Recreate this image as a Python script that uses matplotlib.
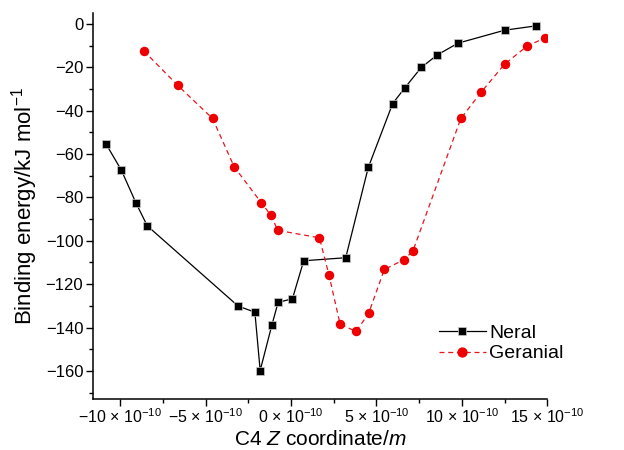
import matplotlib.pyplot as plt
from matplotlib.ticker import MultipleLocator, FuncFormatter

plt.rcParams['font.family'] = ['Liberation Sans', 'DejaVu Sans']
plt.rcParams['mathtext.fontset'] = 'custom'
plt.rcParams['mathtext.rm'] = 'Liberation Sans'
plt.rcParams['mathtext.it'] = 'Liberation Sans:italic'

# C4 Z coordinate (units of 1e-10 m) and binding energy (kJ/mol)
neral_z = [-10.82, -9.94, -9.08, -8.42, -3.1, -2.12, -1.81, -1.13, -0.76, 0.08,
           0.74, 3.2, 4.52, 5.95, 6.65, 7.62, 8.56, 9.77, 12.51, 14.35]
neral_e = [-55.6, -67.4, -82.6, -93.1, -130.1, -132.9, -159.8, -139.0, -128.4, -126.7,
           -109.2, -107.8, -66.2, -36.7, -29.6, -20.1, -14.3, -8.9, -2.9, -0.9]

geranial_z = [-8.63, -6.63, -4.6, -3.33, -1.74, -1.17, -0.78, 1.66, 2.22, 2.87,
              3.8, 4.54, 5.46, 6.59, 7.13, 9.94, 11.15, 12.5, 13.84, 14.87]
geranial_e = [-12.4, -28.4, -43.6, -65.9, -82.5, -88.3, -95.2, -98.6, -115.8, -138.4,
              -141.8, -133.5, -113.2, -108.8, -104.8, -43.6, -31.3, -18.6, -10.1, -6.5]

fig = plt.figure(figsize=(6.24, 4.5), dpi=100)
ax = fig.add_axes([0.149, 0.113, 0.728, 0.858])

ax.plot(neral_z, neral_e, color='black', lw=0.9, marker='s', markersize=5.2,
        markeredgecolor='#cccccc', markeredgewidth=0.5, label='Neral')
ax.plot(geranial_z, geranial_e, color='#e8141c', lw=0.9, ls=(0, (4, 3)), marker='o',
        markersize=5.8, markeredgecolor='#ee0000', markerfacecolor='#ee0000',
        label='Geranial')

ax.set_xlim(-11.6, 15)
ax.set_ylim(-173, 5)

ax.spines['top'].set_visible(False)
ax.spines['right'].set_visible(False)
ax.spines['left'].set_linewidth(1.1)
ax.spines['bottom'].set_linewidth(1.1)

ax.xaxis.set_major_locator(MultipleLocator(5))
ax.xaxis.set_minor_locator(MultipleLocator(2.5))
ax.yaxis.set_major_locator(MultipleLocator(20))
ax.yaxis.set_minor_locator(MultipleLocator(10))
ax.xaxis.set_major_formatter(FuncFormatter(
    lambda v, p: '%s%d \u00d7 10$^{\u221210}$' % ('\u2212' if v < 0 else '', abs(round(v)))))
ax.yaxis.set_major_formatter(FuncFormatter(
    lambda v, p: ('\u2212%d' % abs(round(v))) if v < 0 else '%d' % round(v)))
ax.tick_params(which='major', direction='out', length=5, width=1)
ax.tick_params(which='minor', direction='out', length=3, width=1)
ax.tick_params(axis='x', which='major', labelsize=11.5, pad=1)
ax.tick_params(axis='y', which='major', labelsize=12, pad=2)

ax.set_xlabel(r'C4 $Z$ coordinate/$m$', fontsize=15, labelpad=3)
ax.set_ylabel(r'Binding energy/kJ mol$^{-1}$', fontsize=16, labelpad=4)

ax.legend(loc='lower right', bbox_to_anchor=(1.075, 0.05), frameon=False, fontsize=14,
          handlelength=2.4, handletextpad=0.2, labelspacing=0.15, markerscale=1.1)

fig.savefig('out.png', dpi=100)
